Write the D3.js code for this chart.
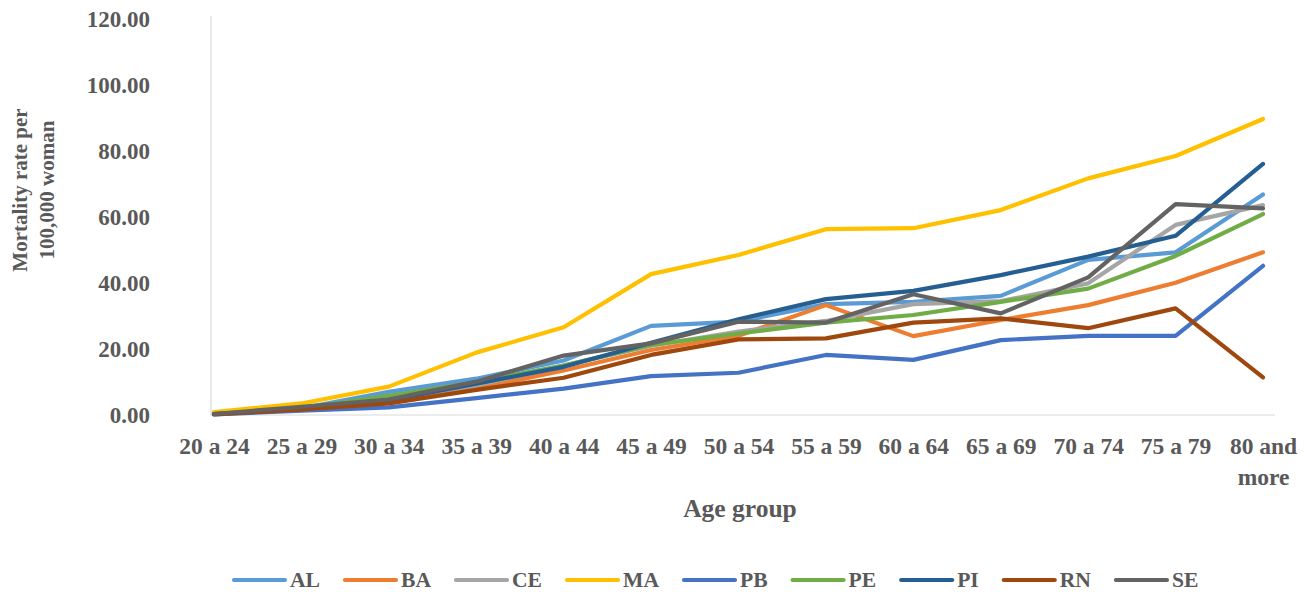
<!DOCTYPE html>
<html><head><meta charset="utf-8">
<script src="https://cdn.jsdelivr.net/npm/d3@7"></script>
<style>
html,body{margin:0;padding:0;background:#fff;}
svg text{font-family:"Liberation Serif","Times New Roman",serif;font-weight:bold;fill:#595959;}
</style></head><body>
<svg id="chart" width="1313" height="592"></svg>
<script>
const categories = ["20 a 24","25 a 29","30 a 34","35 a 39","40 a 44","45 a 49","50 a 54","55 a 59","60 a 64","65 a 69","70 a 74","75 a 79","80 and more"];
const seriesNames = ["AL","BA","CE","MA","PB","PE","PI","RN","SE"];
const seriesColors = ["#5B9BD5","#ED7D31","#A5A5A5","#FFC000","#4472C4","#70AD47","#255E91","#9E480E","#636363"];
const AL = [0.4, 2.0, 7.0, 11.0, 16.5, 27.0, 28.3, 33.6, 34.3, 36.1, 47.0, 49.3, 66.8];
const BA = [0.3, 1.8, 4.5, 8.0, 13.5, 19.7, 24.0, 33.3, 23.9, 28.8, 33.3, 40.1, 49.3];
const CE = [0.3, 1.9, 5.0, 9.0, 15.0, 21.0, 25.3, 28.5, 33.6, 34.5, 39.9, 57.6, 63.6];
const MA = [0.9, 3.5, 8.6, 18.9, 26.6, 42.7, 48.5, 56.3, 56.6, 62.1, 71.7, 78.5, 89.7];
const PB = [0.2, 1.3, 2.3, 5.1, 8.0, 11.8, 12.8, 18.2, 16.7, 22.7, 24.0, 24.0, 45.2];
const PE = [0.3, 2.0, 5.8, 10.0, 15.0, 21.2, 24.7, 28.0, 30.3, 34.3, 38.3, 48.2, 60.9];
const PI = [0.3, 1.8, 4.5, 9.5, 14.6, 21.9, 29.0, 35.1, 37.6, 42.4, 48.0, 54.3, 76.1];
const RN = [0.2, 1.7, 3.5, 7.6, 11.3, 18.2, 22.9, 23.2, 28.0, 29.3, 26.3, 32.3, 11.4];
const SE = [0.3, 2.5, 4.7, 10.1, 18.0, 21.7, 28.3, 28.0, 36.6, 30.8, 41.7, 63.9, 62.6];
const seriesValues = [AL, BA, CE, MA, PB, PE, PI, RN, SE];
const yTicks = [0, 20, 40, 60, 80, 100, 120];
const yTitleLines = ["Mortality rate per", "100,000 woman"];
const xTitle = "Age group";

const svg = d3.select("#chart");
const x = d3.scalePoint().domain(categories).range([214, 1263]);
const y = d3.scaleLinear().domain([0, 120]).range([415, 19]);

// axis lines
svg.append("line").attr("x1", 211).attr("x2", 211).attr("y1", y(120) - 3).attr("y2", y(0))
  .attr("stroke", "#d9d9d9").attr("stroke-width", 1.2);
svg.append("line").attr("x1", 211).attr("x2", 1275).attr("y1", y(0)).attr("y2", y(0))
  .attr("stroke", "#d9d9d9").attr("stroke-width", 1.2);

// y tick labels
const yAxis = d3.axisLeft(y).tickValues(yTicks).tickFormat(d3.format(".2f")).tickSize(0).tickPadding(0);
const gy = svg.append("g").attr("transform", "translate(150,0)").call(yAxis);
gy.select(".domain").remove();
gy.selectAll("text").style("font-size", "23px").attr("fill", "#595959")
  .style("font-family", "'Liberation Serif',serif").style("font-weight", "bold");

// x tick labels (wrapped when wider than the category spacing)
const xAxis = d3.axisBottom(x).tickSize(0).tickPadding(0);
const gx = svg.append("g").call(xAxis);
gx.select(".domain").remove();
gx.selectAll("text").remove();
gx.selectAll(".tick").each(function(d) {
  const t = d3.select(this).append("text").attr("text-anchor", "middle")
    .style("font-size", "23.5px").attr("fill", "#595959")
    .style("font-family", "'Liberation Serif',serif").style("font-weight", "bold");
  const words = d.split(" ");
  const lines = (words.length >= 3 && words[1] !== "a") ? [words.slice(0, 2).join(" "), words.slice(2).join(" ")] : [d];
  lines.forEach((ln, i) => {
    t.append("tspan").attr("x", 0).attr("y", 454 + i * 31).text(ln);
  });
});

// series lines
const line = d3.line().x((d, i) => x(categories[i])).y(d => y(d));
seriesValues.forEach((vals, k) => {
  svg.append("path").datum(vals).attr("d", line)
    .attr("fill", "none").attr("stroke", seriesColors[k]).attr("stroke-width", 4.2)
    .attr("stroke-linejoin", "round").attr("stroke-linecap", "round");
});

// axis titles
const yt = svg.append("text").attr("transform", "translate(0,190) rotate(-90)")
  .attr("text-anchor", "middle").style("font-size", "21px");
yTitleLines.forEach((ln, i) => yt.append("tspan").attr("x", 0).attr("y", 27 + i * 27).text(ln));
svg.append("text").attr("x", 740).attr("y", 517).attr("text-anchor", "middle")
  .style("font-size", "25.5px").text(xTitle);

// legend
const lg = svg.append("g");
let lx = 232;
seriesNames.forEach((name, k) => {
  lg.append("line").attr("x1", lx + 2).attr("x2", lx + 53).attr("y1", 580).attr("y2", 580)
    .attr("stroke", seriesColors[k]).attr("stroke-width", 4.2).attr("stroke-linecap", "round");
  const t = lg.append("text").attr("x", lx + 58).attr("y", 587).style("font-size", "21.6px").text(name);
  const w = t.node().getComputedTextLength();
  lx += 58 + w + 23;
});
</script>
</body></html>
